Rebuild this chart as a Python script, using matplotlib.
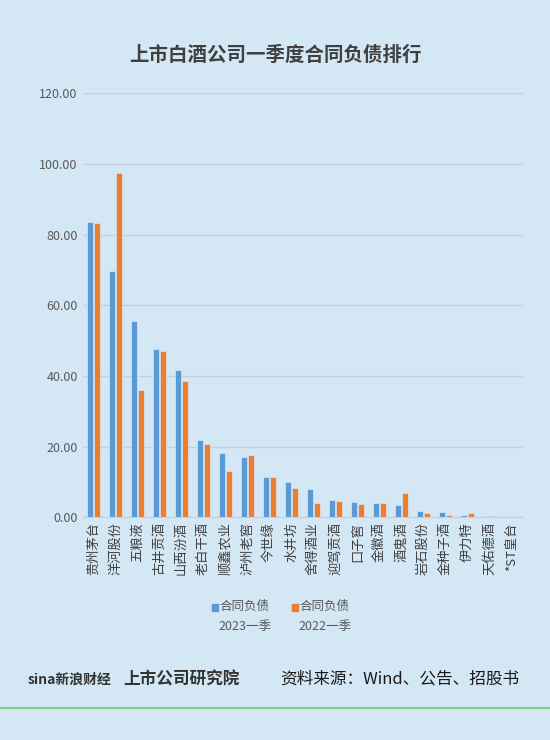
import matplotlib
matplotlib.use("Agg")
import matplotlib.pyplot as plt
import numpy as np

plt.rcParams['font.family'] = ['Noto Sans CJK SC', 'DejaVu Sans']

companies = ["贵州茅台","洋河股份","五粮液","古井贡酒","山西汾酒","老白干酒","顺鑫农业","泸州老窖",
             "今世缘","水井坊","舍得酒业","迎驾贡酒","口子窖","金徽酒","酒鬼酒","岩石股份",
             "金种子酒","伊力特","天佑德酒","*ST皇台"]
v2023 = [83.5,69.8,55.5,47.5,41.8,22.0,18.2,17.1,11.4,10.0,8.1,4.9,4.4,4.1,3.6,1.9,1.6,0.5,0.3,0.05]
v2022 = [83.2,97.5,36.0,47.0,38.7,20.6,13.2,17.6,11.4,8.3,3.9,4.7,3.7,4.0,6.9,1.1,0.5,1.1,0.3,0.05]
yticks = [0,20,40,60,80,100,120]

bg = '#d4e7f5'
fig = plt.figure(figsize=(5.5,7.4), dpi=100, facecolor=bg)
ax = fig.add_axes([0.15, 0.301, 0.8, 0.573], facecolor=bg)
x = np.arange(len(companies))
w = 0.28
ax.bar(x-w/2-0.01, v2023, w, color='#5b9bd5', edgecolor=bg, linewidth=0.5)
ax.bar(x+w/2+0.01, v2022, w, color='#ed7d31', edgecolor=bg, linewidth=0.5)
ax.set_ylim(0,120)
ax.set_xlim(-0.5, len(companies)-0.5)
ax.set_yticks(yticks)
ax.set_yticklabels([f"{t:.2f}" for t in yticks], fontsize=9, color='#595959')
ax.yaxis.grid(True, color='#c9cfd6', linewidth=1)
ax.set_axisbelow(True)
ax.set_xticks(x)
ax.set_xticklabels(companies, rotation=90, fontsize=9.5, color='#404040')
ax.tick_params(length=0)
for s in ['top','right','left']:
    ax.spines[s].set_visible(False)
ax.spines['bottom'].set_color('#c9cfd6')

fig.text(0.5, 0.925, "上市白酒公司一季度合同负债排行", ha='center', va='center', fontsize=14, fontweight='bold', color='#404040')

# legend
for xp, c, lab in [(0.385, '#5b9bd5', '2023一季'), (0.53, '#ed7d31', '2022一季')]:
    fig.patches.append(plt.Rectangle((xp, 0.175), 0.011, 0.009, color=c, transform=fig.transFigure))
    fig.text(xp+0.015, 0.18, "合同负债", fontsize=9, color='#595959', va='center')
    fig.text(xp+0.06, 0.153, lab, fontsize=9, color='#595959', va='center', ha='center')

fig.text(0.05, 0.082, "sina新浪财经", fontsize=10, fontweight='bold', color='#333333', va='center', style='italic')
fig.text(0.225, 0.082, "上市公司研究院", fontsize=12, fontweight='bold', color='#333333', va='center', style='italic')
fig.text(0.51, 0.082, "资料来源：Wind、公告、招股书", fontsize=12, color='#1a1a1a', va='center')
fig.add_artist(plt.Line2D([0,1],[0.043,0.043], color='#7fcf8f', linewidth=1.5, transform=fig.transFigure))

fig.savefig("out.png", dpi=100, facecolor=bg)
